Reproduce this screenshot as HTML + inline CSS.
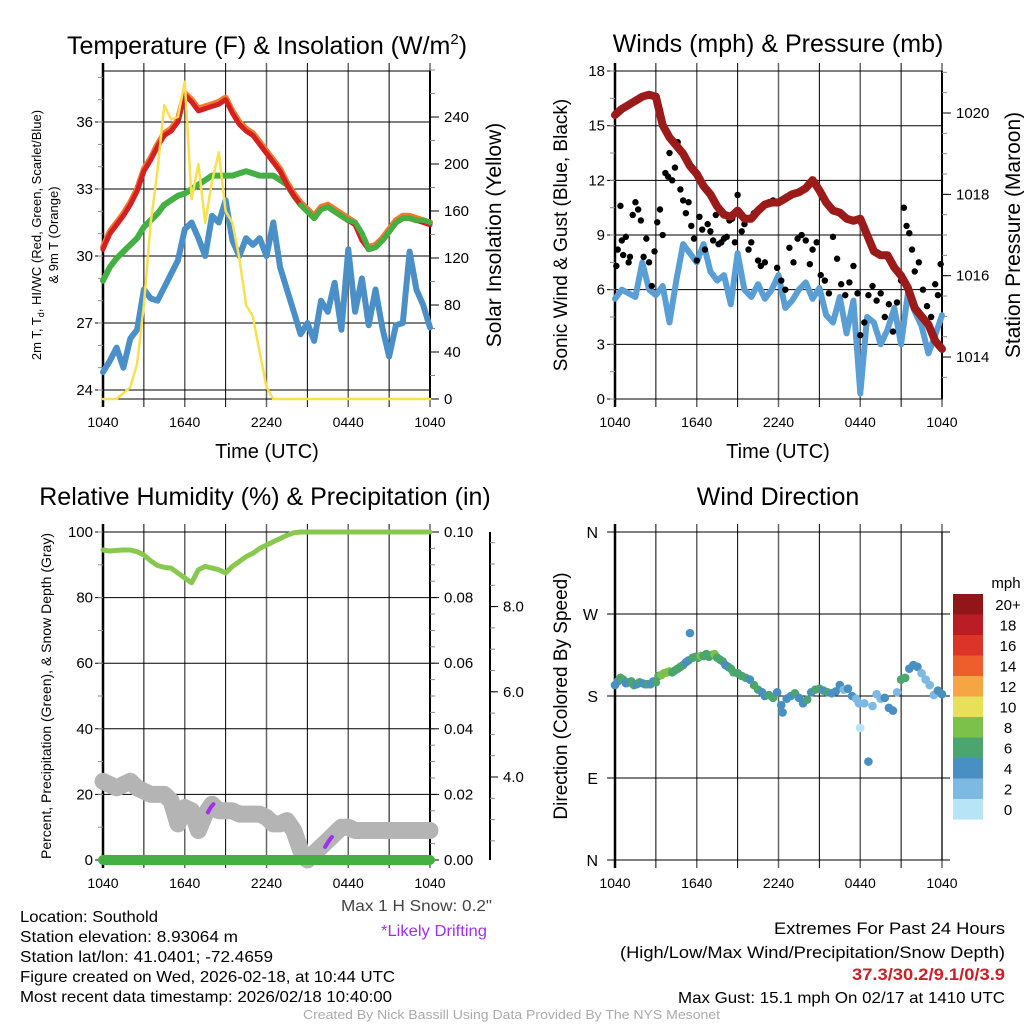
<!DOCTYPE html>
<html><head><meta charset="utf-8">
<style>
html,body{margin:0;padding:0;background:#fff;}
svg{display:block;font-family:"Liberation Sans",sans-serif;}
</style></head>
<body>
<svg id="fig" xmlns="http://www.w3.org/2000/svg" width="1024" height="1024" viewBox="0 0 1024 1024">
<rect width="1024" height="1024" fill="#fff"/>
<g id="g1"></g>
<g id="g2"></g>
<g id="g3"></g>
<g id="g4"></g>

<text x="267" y="54" font-size="25" text-anchor="middle">Temperature (F) &amp; Insolation (W/m<tspan dy="-10" font-size="15">2</tspan><tspan dy="10">)</tspan></text>
<text x="778" y="52" font-size="25" text-anchor="middle">Winds (mph) &amp; Pressure (mb)</text>
<text x="265" y="505" font-size="25" text-anchor="middle">Relative Humidity (%) &amp; Precipitation (in)</text>
<text x="778" y="505" font-size="25" text-anchor="middle">Wind Direction</text>

<text transform="translate(41,235) rotate(-90)" font-size="13" text-anchor="middle">2m T, T<tspan dy="3" font-size="9">d</tspan><tspan dy="-3">, HI/WC (Red, Green, Scarlet/Blue)</tspan></text>
<text transform="translate(58,235) rotate(-90)" font-size="13" text-anchor="middle">&amp; 9m T (Orange)</text>
<text transform="translate(501,235) rotate(-90)" font-size="21" text-anchor="middle">Solar Insolation (Yellow)</text>
<text x="267" y="458" font-size="20" text-anchor="middle">Time (UTC)</text>

<text transform="translate(567,235) rotate(-90)" font-size="19" text-anchor="middle">Sonic Wind &amp; Gust (Blue, Black)</text>
<text transform="translate(1020,235) rotate(-90)" font-size="21" text-anchor="middle">Station Pressure (Maroon)</text>
<text x="778" y="458" font-size="20" text-anchor="middle">Time (UTC)</text>

<text transform="translate(51,696) rotate(-90)" font-size="14" text-anchor="middle">Percent, Precipitation (Green), &amp; Snow Depth (Gray)</text>
<text transform="translate(567,696) rotate(-90)" font-size="19" text-anchor="middle">Direction (Colored By Speed)</text>

<text x="341" y="911" font-size="16" fill="#444" textLength="151" lengthAdjust="spacingAndGlyphs">Max 1 H Snow: 0.2"</text>
<text x="381" y="936" font-size="16" fill="#a030f0" textLength="106" lengthAdjust="spacingAndGlyphs">*Likely Drifting</text>
<g font-size="16">
<text x="20" y="922" textLength="138" lengthAdjust="spacingAndGlyphs">Location: Southold</text>
<text x="20" y="942" textLength="218" lengthAdjust="spacingAndGlyphs">Station elevation: 8.93064 m</text>
<text x="20" y="962" textLength="253" lengthAdjust="spacingAndGlyphs">Station lat/lon: 41.0401; -72.4659</text>
<text x="20" y="982" textLength="375" lengthAdjust="spacingAndGlyphs">Figure created on Wed, 2026-02-18, at 10:44 UTC</text>
<text x="20" y="1002" textLength="372" lengthAdjust="spacingAndGlyphs">Most recent data timestamp: 2026/02/18 10:40:00</text>
</g>
<g font-size="17">
<text x="774" y="934" textLength="231" lengthAdjust="spacingAndGlyphs">Extremes For Past 24 Hours</text>
<text x="620" y="958" textLength="385" lengthAdjust="spacingAndGlyphs">(High/Low/Max Wind/Precipitation/Snow Depth)</text>
<text x="852" y="980" font-weight="bold" fill="#cc1f28" textLength="153" lengthAdjust="spacingAndGlyphs">37.3/30.2/9.1/0/3.9</text>
<text x="678" y="1003" font-size="16" textLength="327" lengthAdjust="spacingAndGlyphs">Max Gust: 15.1 mph On 02/17 at 1410 UTC</text>
</g>
<text x="303" y="1019" font-size="13" fill="#aaa" textLength="417" lengthAdjust="spacingAndGlyphs">Created By Nick Bassill Using Data Provided By The NYS Mesonet</text>
</svg>
<script>
// ---- data (hours since 1040 UTC, half-hour steps) ----
const hours = [0,0.5,1,1.5,2,2.5,3,3.5,4,4.5,5,5.5,6,6.5,7,7.5,8,8.5,9,9.5,10,10.5,11,11.5,12,12.5,13,13.5,14,14.5,15,15.5,16,16.5,17,17.5,18,18.5,19,19.5,20,20.5,21,21.5,22,22.5,23,23.5,24];
const tempRed = [30.3,31.0,31.4,31.8,32.3,32.9,33.8,34.3,34.9,35.4,35.6,36.0,37.2,36.9,36.5,36.6,36.7,36.8,37.0,36.4,35.9,35.6,35.4,35.0,34.6,34.2,33.8,33.2,32.7,32.3,32.0,31.7,32.1,32.2,32.0,31.8,31.6,31.4,30.7,30.3,30.4,30.7,31.1,31.5,31.7,31.7,31.6,31.5,31.4];
const tempGreen = [28.9,29.5,29.9,30.2,30.5,30.8,31.3,31.6,31.9,32.3,32.5,32.7,32.8,33.0,33.2,33.4,33.6,33.6,33.6,33.6,33.7,33.8,33.7,33.6,33.6,33.6,33.4,33.2,32.7,32.3,32.0,31.7,32.1,32.2,32.0,31.8,31.6,31.5,31.0,30.3,30.4,30.7,31.1,31.5,31.7,31.7,31.6,31.6,31.5];
const tempBlue = [24.8,25.3,25.9,25.0,26.3,26.7,28.5,28.1,28.0,28.6,29.2,29.8,31.2,31.5,30.8,30.0,31.8,31.5,32.5,30.7,30.0,30.8,30.5,30.8,30.0,31.5,29.5,28.5,27.5,26.5,27.0,26.2,28.0,27.5,28.8,26.7,30.3,27.5,29.0,26.9,28.5,26.8,25.5,26.9,27.0,30.2,28.5,27.8,26.8];
const solar = [0,0,0,5,10,30,80,150,195,250,238,240,270,170,200,150,185,210,160,150,120,80,70,40,10,0,0,0,0,0,0,0,0,0,0,0,0,0,0,0,0,0,0,0,0,0,0,0,0];
const windSonic = [5.5,6.0,5.8,5.6,7.5,6.0,5.7,6.2,4.2,6.5,8.5,8.0,7.5,8.5,7.0,6.5,6.8,5.2,8.0,6.0,5.6,6.3,5.5,6.0,6.8,5.0,5.4,6.0,6.4,5.5,6.1,4.6,4.2,5.6,3.6,5.4,0.3,4.5,4.2,3.0,3.8,5.0,3.0,5.8,4.8,4.0,2.5,3.5,4.6];
const pressure = [1019.95,1020.1,1020.2,1020.3,1020.4,1020.45,1020.4,1019.7,1019.4,1019.2,1019.0,1018.7,1018.5,1018.2,1018.0,1017.7,1017.5,1017.45,1017.6,1017.4,1017.4,1017.6,1017.75,1017.8,1017.8,1017.9,1018.0,1018.05,1018.15,1018.35,1018.1,1017.8,1017.6,1017.55,1017.4,1017.35,1017.4,1017.0,1016.6,1016.5,1016.5,1016.2,1016.0,1015.7,1015.2,1015.0,1014.8,1014.4,1014.2];
const rh = [94.5,94.2,94.4,94.5,94.5,94.0,93.0,91.2,89.8,89.2,89.0,87.5,86.0,84.5,88.5,89.5,89.0,88.5,87.5,89.5,91.0,92.5,93.5,95.0,96.0,97.0,98.0,99.0,99.8,100,100,100,100,100,100,100,100,100,100,100,100,100,100,100,100,100,100,100,100];
const snowDepth = [24,23,22,23,24,22,21,20,20,20,18,11,16,15,9,14,17,15,15,15,14,14,14,14,13,11,11,12,9,3,0,2,4,6,8,10,10,9,9,9,9,9,9,9,9,9,9,9,9];
const driftHours1 = [7.7,7.9,8.1];
const driftVals1 = [14.5,16,17];
const driftHours2 = [16.3,16.6,16.8];
const driftVals2 = [4,6,7];
const gustHours = [0.1,0.2,0.4,0.5,0.6,0.8,1.0,1.1,1.3,1.5,1.7,1.9,2.1,2.3,2.5,2.7,2.9,3.1,3.3,3.5,3.7,3.9,4.0,4.2,4.4,4.6,4.8,5.0,5.2,5.4,5.6,5.8,6.0,6.2,6.4,6.6,6.8,7.0,7.2,7.4,7.6,7.8,8.0,8.2,8.4,8.6,8.8,9.0,9.3,9.5,9.8,10.0,10.2,10.5,10.7,11.0,11.3,11.6,11.9,12.2,12.5,12.8,13.1,13.4,13.7,14.0,14.3,14.5,14.8,15.1,15.4,15.7,16.0,16.3,16.6,16.9,17.2,17.5,17.8,18.0,18.3,18.6,18.9,19.2,19.5,19.8,20.1,20.4,20.7,21.0,21.2,21.4,21.6,21.8,22.0,22.3,22.6,22.9,23.2,23.5,23.7,23.9];
const gustVals = [7.3,8.2,10.6,8.7,7.9,8.9,7.5,7.8,10.1,10.8,10.4,9.8,7.8,8.8,7.5,6.2,8.1,9.7,10.4,9.0,12.4,12.2,13.5,12.0,12.7,14.1,11.5,10.9,10.2,10.8,9.5,8.8,7.6,10.0,9.3,8.2,9.6,9.2,8.7,10.1,8.5,8.6,8.8,8.9,9.8,9.9,8.6,11.2,9.2,9.6,8.2,8.6,10.2,7.6,7.3,7.5,10.8,10.9,7.2,6.5,6.0,8.3,7.5,8.8,9.0,8.7,7.4,8.2,8.6,6.8,6.5,5.8,8.9,7.7,6.3,5.7,6.4,7.3,5.8,3.5,4.2,5.7,6.2,5.4,5.8,4.5,5.2,3.7,5.3,6.5,10.5,9.5,9.1,8.2,7.0,7.5,6.0,5.1,4.5,6.3,5.7,7.4];
const dirHours = [0,0.2,0.4,0.6,0.8,1.0,1.2,1.4,1.6,1.8,2.0,2.2,2.4,2.6,2.8,3.0,3.2,3.4,3.6,3.8,4.0,4.2,4.4,4.6,4.8,5.0,5.2,5.4,5.5,5.7,5.9,6.1,6.3,6.5,6.7,6.9,7.1,7.3,7.5,7.7,7.9,8.1,8.3,8.5,8.7,9.0,9.3,9.6,9.9,10.2,10.5,10.8,11.0,11.3,11.6,11.9,12.2,12.3,12.6,12.9,13.2,13.5,13.8,14.1,14.4,14.7,15.0,15.3,15.6,15.9,16.2,16.5,16.8,17.1,17.4,17.7,17.9,18.0,18.3,18.6,18.9,19.2,19.5,19.8,20.1,20.4,20.7,21.0,21.3,21.6,21.9,22.2,22.5,22.8,23.1,23.4,23.7,24.0];
const dirDeg = [192,196,200,198,194,195,196,192,193,195,194,193,193,193,196,195,202,203,205,206,207,206,208,210,212,214,217,219,249,222,223,222,224,224,226,223,225,226,222,220,218,214,212,210,206,205,202,200,198,192,187,184,180,181,178,184,170,162,177,180,183,178,172,176,184,187,188,186,184,183,185,192,187,188,180,177,172,145,172,108,169,182,177,178,167,164,184,198,200,210,214,212,205,198,192,181,186,182];
const dirSpeed = [4,5,6,6,5,4,7,6,5,6,5,5,6,4,5,6,7,8,8,8,8,7,6,6,7,6,5,4,4,6,7,6,8,7,6,6,7,8,6,6,6,5,5,6,7,6,6,7,4,6,6,5,5,6,6,4,4,5,4,5,6,5,5,6,5,6,6,5,6,4,4,5,3,5,4,2,3,1,2,4,3,2,3,4,4,4,3,6,6,5,4,4,3,2,3,3,4,4];
const leftTicks1 = [24,27,30,33,36];
const rightTicks1 = [0,40,80,120,160,200,240];
const windTicks = [0,3,6,9,12,15,18];
const presTicks = [1014,1016,1018,1020];
const rhTicks = [0,20,40,60,80,100];
const precipTicks = ["0.00","0.02","0.04","0.06","0.08","0.10"];
const snowTicks = ["4.0","6.0","8.0"];
const snowTickVals = [4,6,8];
const dirLabels = ["N","E","S","W","N"];
const timeLabels = ["1040","1640","2240","0440","1040"];
const speedLabels = ["20+","18","16","14","12","10","8","6","4","2","0"];
const speedColors = ["#921519","#bb1d24","#dc3428","#ee5e2c","#f5a544","#e8e05a","#7cc24a","#4aa56e","#4a8fc2","#7db9e3","#b8e4f7"];

const NS='http://www.w3.org/2000/svg';
function mk(parent,tag,attrs,txt){const e=document.createElementNS(NS,tag);for(const k in attrs)e.setAttribute(k,attrs[k]);if(txt!==undefined)e.textContent=txt;parent.appendChild(e);return e;}
function pathD(xs,ys,fx,fy){return xs.map((h,i)=>(i?'L':'M')+fx(h).toFixed(1)+','+fy(ys[i]).toFixed(1)).join('');}

const xL=h=>103+h*13.625, xR=h=>615+h*13.625;
const yT=t=>390-(t-24)*22.33, yS=w=>399-w*1.175;
const yW=v=>399-v*18.22, yP=p=>113+(1020-p)*40.67;
const yRH=v=>860-v*3.28;
const ySnow=v=>777-(v-4)*42.6;
const yD=d=>860-d*0.9111;

function frame(g,x0,x1,y0,y1,gridYs){
  for(let k=0;k<=8;k++){const x=x0+k*(x1-x0)/8;
    const l=mk(g,'line',{x1:x,x2:x,y1:y0-8,y2:y1+8,stroke:k%2?'#000':'#666','stroke-width':k%2?1:1.5});
    
    }
  gridYs.forEach(y=>{const l=mk(g,'line',{x1:x0-8,x2:x1,y1:y,y2:y,stroke:'#000','stroke-width':1});
    
    });
  const f=mk(g,'rect',{x:x0,y:y0,width:x1-x0,height:y1-y0,fill:'none',stroke:'#000','stroke-width':1});
  
  
  mk(g,'line',{x1:x0,x2:x0,y1:y0-8,y2:y1+8,stroke:'#000','stroke-width':2.5});
  timeLabels.forEach((s,i)=>{const t=mk(g,'text',{x:x0+i*(x1-x0)/4,y:y1+28,'font-size':14,'text-anchor':'middle'},s);
    
    });
}
function leftLabels(g,x0,vals,fy){vals.forEach(v=>{const t=mk(g,'text',{x:x0-10,y:fy(v)+5,'font-size':15,'text-anchor':'end'},v);
  
  });}
function minorLeft(g,x0,a,b,step,fy){for(let v=a;v<=b+1e-9;v+=step)mk(g,'line',{x1:x0-5,x2:x0,y1:fy(v),y2:fy(v),stroke:'#888'});}
function rightAxis(g,x1,vals,labels,fy,minA,minB,minStep,y0,y1){
  mk(g,'line',{x1:x1,x2:x1,y1:y0,y2:y1,stroke:'#000','stroke-width':2});
  for(let v=minA;v<=minB+1e-9;v+=minStep){const y=fy(v);if(y>=y0-1&&y<=y1+1)mk(g,'line',{x1:x1,x2:x1+5,y1:y,y2:y,stroke:'#888'});}
  vals.forEach((v,i)=>{mk(g,'line',{x1:x1,x2:x1+9,y1:fy(v),y2:fy(v),stroke:'#000'});
    const t=mk(g,'text',{x:x1+14,y:fy(v)+5,'font-size':15},labels[i]);
    
    });
}
function line(g,xs,ys,fx,fy,color,w,name){const p=mk(g,'path',{d:pathD(xs,ys,fx,fy),fill:'none',stroke:color,'stroke-width':w,'stroke-linejoin':'round','stroke-linecap':'round'});
  
  return p;}

// Panel 1
const g1=document.getElementById('g1');
frame(g1,103,430,71,399,leftTicks1.map(yT));
minorLeft(g1,103,24,38,1,yT);
leftLabels(g1,103,leftTicks1,yT);
rightAxis(g1,430,rightTicks1,rightTicks1.map(String),yS,0,280,20,71,399);
line(g1,hours,tempBlue,xL,yT,'#4a8fc8',6,'heat-index-line');
line(g1,hours,tempGreen,xL,yT,'#44b044',6,'dewpoint-line');
line(g1,hours,tempRed.map(v=>v+0.1),xL,yT,'#f07a30',6,'9m-temperature-line');
line(g1,hours,tempRed,xL,yT,'#d42020',5,'temperature-line');
line(g1,hours.slice(29),tempGreen.slice(29),xL,yT,'#44b044',5,'dewpoint-merged-line');
line(g1,hours,solar,xL,yS,'#f8e050',2.5,'insolation-line');

// Panel 2
const g2=document.getElementById('g2');
frame(g2,615,942,71,399,windTicks.map(yW));
minorLeft(g2,615,0,18,1.5,yW);
leftLabels(g2,615,windTicks,yW);
rightAxis(g2,942,presTicks,presTicks.map(String),yP,1013.5,1021,0.5,71,399);
line(g2,hours,windSonic,xR,yW,'#5a9ed6',6,'sonic-wind-line');
gustHours.forEach((h,i)=>{const c=mk(g2,'circle',{cx:xR(h),cy:yW(gustVals[i]),r:3.2,fill:'#000'});
  
  });
line(g2,hours,pressure,xR,yP,'#9b1a1a',8,'pressure-line');

// Panel 3
const g3=document.getElementById('g3');
frame(g3,103,430,532,860,rhTicks.map(yRH));
minorLeft(g3,103,0,100,10,yRH);
leftLabels(g3,103,rhTicks,yRH);
rightAxis(g3,430,rhTicks,precipTicks,yRH,0,100,5,532,860);
mk(g3,'line',{x1:490,x2:490,y1:532,y2:860,stroke:'#000','stroke-width':2});
for(let v=2.5;v<=9.5;v+=0.5){const y=ySnow(v);if(y>=532&&y<=860)mk(g3,'line',{x1:490,x2:495,y1:y,y2:y,stroke:'#888'});}
snowTickVals.forEach((v,i)=>{mk(g3,'line',{x1:490,x2:498,y1:ySnow(v),y2:ySnow(v),stroke:'#000'});
  const t=mk(g3,'text',{x:503,y:ySnow(v)+5,'font-size':15},snowTicks[i]);
  
  });
line(g3,hours,snowDepth,xL,yRH,'#b4b4b4',17,'snow-depth-line');
line(g3,driftHours1,driftVals1,xL,yRH,'#a030f0',4,'drift-segment');
line(g3,driftHours2,driftVals2,xL,yRH,'#a030f0',4,'drift-segment');
line(g3,hours,hours.map(()=>0),xL,yRH,'#44b044',10,'precipitation-line');
line(g3,hours,rh,xL,yRH,'#88c850',5,'humidity-line');

// Panel 4
const g4=document.getElementById('g4');
frame(g4,615,942,532,860,[0,90,180,270,360].map(yD));
[0,90,180,270,360].forEach(d=>mk(g4,'line',{x1:942,x2:950,y1:yD(d),y2:yD(d),stroke:'#000'}));
dirLabels.forEach((s,i)=>{const t=mk(g4,'text',{x:598,y:yD(i*90)+6,'font-size':16,'text-anchor':'end'},s);
  
  });
function spColor(s){const idx=Math.min(10,Math.floor(s/2));return speedColors[10-idx];}
dirHours.forEach((h,i)=>{const c=mk(g4,'circle',{cx:xR(h),cy:yD(dirDeg[i]),r:4.3,fill:spColor(dirSpeed[i])});
  
  });
const cb=mk(g4,'g',{});


const mph=mk(cb,'text',{x:1006,y:588,'font-size':15,'text-anchor':'middle'},'mph');


speedColors.forEach((c,i)=>{const r=mk(cb,'rect',{x:953,y:594+i*20.5,width:30,height:20.6,fill:c});
  
  
  const t=mk(cb,'text',{x:1008,y:610+i*20.5,'font-size':15,'text-anchor':'middle'},speedLabels[i]);
  
  });
</script>
</body></html>
